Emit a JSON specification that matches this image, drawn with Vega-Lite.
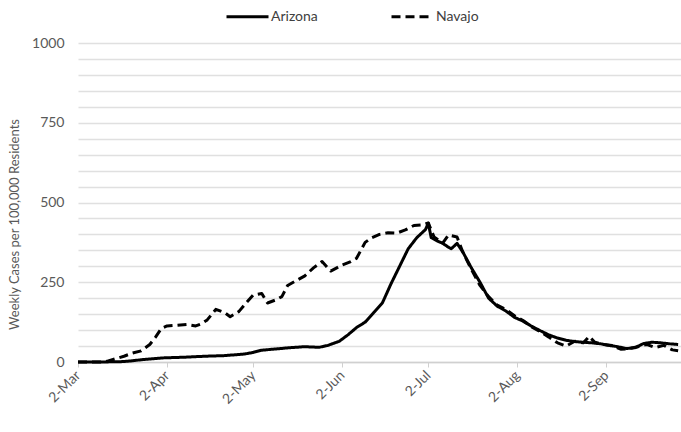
{
  "$schema": "https://vega.github.io/schema/vega-lite/v6.json",
  "width": 603,
  "height": 319,
  "autosize": {"type": "none"},
  "padding": {"left": 78, "top": 43, "right": 0, "bottom": 70},
  "background": "white",
  "config": {
    "view": {"stroke": null},
    "font": "Lato",
    "axis": {"labelFont": "Lato", "titleFont": "Lato", "labelColor": "#595959", "titleColor": "#595959"},
    "legend": {"labelFont": "Lato"}
  },
  "datasets": {
    "az": [
      {"date": "2020-03-02", "v": 0}, {"date": "2020-03-10", "v": 0}, {"date": "2020-03-17", "v": 1},
      {"date": "2020-03-20", "v": 3}, {"date": "2020-03-25", "v": 8}, {"date": "2020-04-01", "v": 13},
      {"date": "2020-04-08", "v": 15}, {"date": "2020-04-15", "v": 18}, {"date": "2020-04-22", "v": 20},
      {"date": "2020-04-29", "v": 25}, {"date": "2020-05-02", "v": 30}, {"date": "2020-05-05", "v": 37},
      {"date": "2020-05-10", "v": 41}, {"date": "2020-05-15", "v": 45}, {"date": "2020-05-20", "v": 48},
      {"date": "2020-05-25", "v": 46}, {"date": "2020-05-28", "v": 52}, {"date": "2020-06-01", "v": 65},
      {"date": "2020-06-04", "v": 85}, {"date": "2020-06-07", "v": 108}, {"date": "2020-06-10", "v": 125},
      {"date": "2020-06-13", "v": 155}, {"date": "2020-06-16", "v": 185}, {"date": "2020-06-19", "v": 245},
      {"date": "2020-06-22", "v": 300}, {"date": "2020-06-25", "v": 355}, {"date": "2020-06-28", "v": 390},
      {"date": "2020-07-01", "v": 415}, {"date": "2020-07-02", "v": 435}, {"date": "2020-07-03", "v": 390},
      {"date": "2020-07-05", "v": 380}, {"date": "2020-07-07", "v": 372}, {"date": "2020-07-09", "v": 360},
      {"date": "2020-07-10", "v": 355}, {"date": "2020-07-12", "v": 372}, {"date": "2020-07-14", "v": 345},
      {"date": "2020-07-17", "v": 295}, {"date": "2020-07-20", "v": 250}, {"date": "2020-07-23", "v": 200},
      {"date": "2020-07-26", "v": 175}, {"date": "2020-07-29", "v": 160}, {"date": "2020-08-01", "v": 140},
      {"date": "2020-08-04", "v": 128}, {"date": "2020-08-07", "v": 112}, {"date": "2020-08-10", "v": 98},
      {"date": "2020-08-13", "v": 85}, {"date": "2020-08-16", "v": 75}, {"date": "2020-08-19", "v": 68},
      {"date": "2020-08-22", "v": 64}, {"date": "2020-08-25", "v": 62}, {"date": "2020-08-28", "v": 60},
      {"date": "2020-08-31", "v": 57}, {"date": "2020-09-03", "v": 52}, {"date": "2020-09-06", "v": 48},
      {"date": "2020-09-09", "v": 42}, {"date": "2020-09-12", "v": 45}, {"date": "2020-09-15", "v": 58},
      {"date": "2020-09-18", "v": 62}, {"date": "2020-09-21", "v": 60}, {"date": "2020-09-24", "v": 57},
      {"date": "2020-09-27", "v": 55}
    ],
    "nv": [
      {"date": "2020-03-02", "v": 0}, {"date": "2020-03-10", "v": 0}, {"date": "2020-03-12", "v": 2},
      {"date": "2020-03-15", "v": 10}, {"date": "2020-03-18", "v": 18}, {"date": "2020-03-21", "v": 28},
      {"date": "2020-03-24", "v": 35}, {"date": "2020-03-27", "v": 55}, {"date": "2020-03-29", "v": 78},
      {"date": "2020-03-31", "v": 105}, {"date": "2020-04-02", "v": 113}, {"date": "2020-04-05", "v": 115},
      {"date": "2020-04-09", "v": 118}, {"date": "2020-04-12", "v": 113}, {"date": "2020-04-14", "v": 120},
      {"date": "2020-04-16", "v": 132}, {"date": "2020-04-19", "v": 165}, {"date": "2020-04-22", "v": 155},
      {"date": "2020-04-24", "v": 142}, {"date": "2020-04-27", "v": 158}, {"date": "2020-04-30", "v": 190},
      {"date": "2020-05-02", "v": 210}, {"date": "2020-05-05", "v": 215}, {"date": "2020-05-07", "v": 185},
      {"date": "2020-05-10", "v": 195}, {"date": "2020-05-12", "v": 205}, {"date": "2020-05-14", "v": 240},
      {"date": "2020-05-17", "v": 255}, {"date": "2020-05-20", "v": 270}, {"date": "2020-05-23", "v": 295},
      {"date": "2020-05-26", "v": 315}, {"date": "2020-05-29", "v": 285}, {"date": "2020-06-02", "v": 304},
      {"date": "2020-06-05", "v": 315}, {"date": "2020-06-07", "v": 325}, {"date": "2020-06-10", "v": 375},
      {"date": "2020-06-12", "v": 388}, {"date": "2020-06-15", "v": 400}, {"date": "2020-06-18", "v": 405},
      {"date": "2020-06-21", "v": 404}, {"date": "2020-06-24", "v": 414}, {"date": "2020-06-27", "v": 428},
      {"date": "2020-06-30", "v": 430}, {"date": "2020-07-02", "v": 436}, {"date": "2020-07-04", "v": 392},
      {"date": "2020-07-07", "v": 373}, {"date": "2020-07-09", "v": 398}, {"date": "2020-07-12", "v": 392},
      {"date": "2020-07-14", "v": 345}, {"date": "2020-07-17", "v": 290}, {"date": "2020-07-20", "v": 240},
      {"date": "2020-07-23", "v": 205}, {"date": "2020-07-26", "v": 178}, {"date": "2020-07-29", "v": 165},
      {"date": "2020-08-01", "v": 145}, {"date": "2020-08-04", "v": 130}, {"date": "2020-08-07", "v": 110},
      {"date": "2020-08-10", "v": 95}, {"date": "2020-08-13", "v": 78}, {"date": "2020-08-16", "v": 60},
      {"date": "2020-08-19", "v": 50}, {"date": "2020-08-22", "v": 65}, {"date": "2020-08-25", "v": 60},
      {"date": "2020-08-27", "v": 80}, {"date": "2020-08-29", "v": 62}, {"date": "2020-09-01", "v": 55},
      {"date": "2020-09-04", "v": 52}, {"date": "2020-09-07", "v": 40}, {"date": "2020-09-10", "v": 42},
      {"date": "2020-09-13", "v": 48}, {"date": "2020-09-16", "v": 55}, {"date": "2020-09-19", "v": 45},
      {"date": "2020-09-22", "v": 52}, {"date": "2020-09-25", "v": 38}, {"date": "2020-09-27", "v": 35}
    ]
  },
  "layer": [
    {
      "data": {"name": "az"},
      "transform": [{"calculate": "'Arizona'", "as": "series"}],
      "mark": {"type": "line", "color": "#000000", "strokeWidth": 3, "strokeJoin": "round"}
    },
    {
      "data": {"name": "nv"},
      "transform": [{"calculate": "'Navajo'", "as": "series"}],
      "mark": {"type": "line", "color": "#000000", "strokeWidth": 3, "strokeJoin": "round"}
    }
  ],
  "encoding": {
    "x": {
      "field": "date", "type": "temporal",
      "scale": {"type": "utc", "domain": [{"year": 2020, "month": 3, "date": 2, "utc": true}, {"year": 2020, "month": 9, "date": 28, "utc": true}]},
      "axis": {
        "title": null, "grid": false,
        "values": [
          {"year": 2020, "month": 3, "date": 2, "utc": true},
          {"year": 2020, "month": 4, "date": 2, "utc": true},
          {"year": 2020, "month": 5, "date": 2, "utc": true},
          {"year": 2020, "month": 6, "date": 2, "utc": true},
          {"year": 2020, "month": 7, "date": 2, "utc": true},
          {"year": 2020, "month": 8, "date": 2, "utc": true},
          {"year": 2020, "month": 9, "date": 2, "utc": true}
        ],
        "labelExpr": "utcFormat(datum.value, '%-d-%b')",
        "labelAngle": -45, "labelAlign": "right", "labelBaseline": "middle",
        "labelFontSize": 14, "labelPadding": 6,
        "domainColor": "#d0d0d0", "domainWidth": 1.5,
        "tickColor": "#d0d0d0", "tickSize": 5, "tickWidth": 1
      }
    },
    "y": {
      "field": "v", "type": "quantitative",
      "scale": {"domain": [0, 1000], "nice": false},
      "axis": {
        "title": "Weekly Cases per 100,000 Residents",
        "titleFontSize": 13, "titleFontWeight": "normal", "titlePadding": 10, "titleY": 181,
        "values": [0, 50, 100, 150, 200, 250, 300, 350, 400, 450, 500, 550, 600, 650, 700, 750, 800, 850, 900, 950, 1000],
        "format": "d",
        "labelExpr": "datum.value % 250 === 0 ? datum.label : ''",
        "labelFontSize": 14, "labelPadding": 14,
        "domain": false, "ticks": false,
        "gridColor": "#e0e0e0", "gridWidth": 1.3
      }
    },
    "strokeDash": {
      "field": "series", "type": "nominal",
      "scale": {"domain": ["Arizona", "Navajo"], "range": [[1, 0], [9, 5]]},
      "legend": {
        "title": null, "orient": "none", "direction": "horizontal",
        "legendX": 147, "legendY": -49,
        "symbolType": "stroke", "symbolSize": 1764, "symbolStrokeWidth": 3,
        "symbolStrokeColor": "#000000",
        "labelFontSize": 14, "labelColor": "#404040", "labelOffset": 1,
        "columnPadding": 67
      }
    }
  }
}
